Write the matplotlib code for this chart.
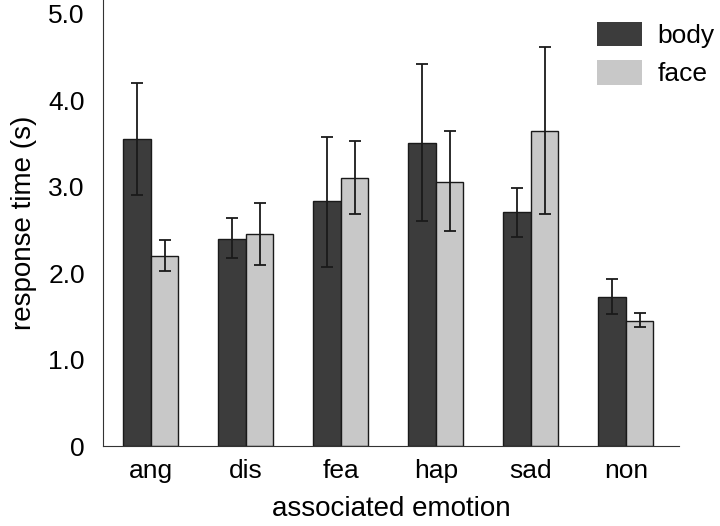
import matplotlib.pyplot as plt
import numpy as np

plt.rcParams['font.family'] = ['Liberation Sans', 'DejaVu Sans']

emotions = ['ang', 'dis', 'fea', 'hap', 'sad', 'non']
body = [3.55, 2.40, 2.83, 3.51, 2.71, 1.73]
body_lo = [2.90, 2.17, 2.07, 2.60, 2.42, 1.53]
body_hi = [4.20, 2.64, 3.58, 4.42, 2.99, 1.93]
face = [2.20, 2.45, 3.10, 3.06, 3.65, 1.45]
face_lo = [2.02, 2.10, 2.68, 2.49, 2.68, 1.38]
face_hi = [2.38, 2.81, 3.53, 3.64, 4.62, 1.54]

body_err = [np.array(body) - np.array(body_lo), np.array(body_hi) - np.array(body)]
face_err = [np.array(face) - np.array(face_lo), np.array(face_hi) - np.array(face)]

x = np.arange(len(emotions))
w = 0.29

fig = plt.figure(figsize=(7.2, 5.26), dpi=100)
ax = fig.add_axes([0.143, 0.152, 0.80, 0.848])

ekw = dict(ecolor='#1a1a1a', elinewidth=1.3, capthick=1.3)
ax.bar(x - w/2, body, w, color='#3c3c3c', edgecolor='#1a1a1a', linewidth=1,
       yerr=body_err, capsize=4, error_kw=ekw, label='body')
ax.bar(x + w/2, face, w, color='#c8c8c8', edgecolor='#1a1a1a', linewidth=1,
       yerr=face_err, capsize=4, error_kw=ekw, label='face')

ax.set_xlim(-0.505, 5.56)
ax.set_ylim(0, 5.16)
ax.set_yticks([0, 1, 2, 3, 4, 5])
ax.set_yticklabels(['0', '1.0', '2.0', '3.0', '4.0', '5.0'])
ax.set_xticks(x)
ax.set_xticklabels(emotions)
ax.tick_params(axis='both', length=0, labelsize=19)
ax.tick_params(axis='y', pad=13)
ax.tick_params(axis='x', pad=9)

for s in ['top', 'right']:
    ax.spines[s].set_visible(False)
ax.spines['left'].set_color('#333333')
ax.spines['bottom'].set_color('#333333')

ax.set_ylabel('response time (s)', fontsize=20, labelpad=8)
ax.set_xlabel('associated emotion', fontsize=20, labelpad=10)

h, l = ax.get_legend_handles_labels()
leg = fig.legend(h, l, loc='upper left', bbox_to_anchor=(597/720, 1 - 22/526),
                 frameon=False, fontsize=19, handlelength=1.7, handleheight=1.05,
                 handletextpad=0.6, labelspacing=0.45, borderpad=0, borderaxespad=0)
for p in leg.get_patches():
    p.set_edgecolor('none')

plt.savefig('out.png', dpi=100)
